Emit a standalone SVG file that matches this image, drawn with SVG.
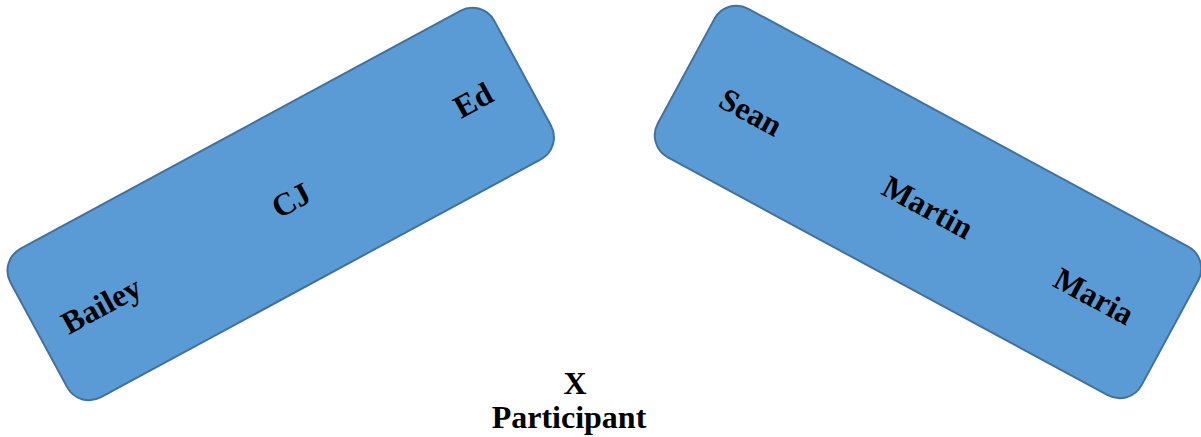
<svg xmlns="http://www.w3.org/2000/svg" width="1201" height="437" viewBox="0 0 1201 437">
<style>
.box{fill:#5B9BD5;stroke:#41719C;stroke-width:2}
.lbl{font-family:"Liberation Serif","Times New Roman",serif;font-weight:bold;font-size:32px;fill:#000;text-anchor:middle}
</style>
<rect width="1201" height="437" fill="#fff"/>
<g id="left-group">
<rect class="box" x="-275" y="-84.5" width="550" height="169" rx="25" ry="25" transform="translate(280.7,204) rotate(-28.4)"/>
<text class="lbl" transform="translate(101,305) rotate(-28.4)" y="11">Bailey</text>
<text class="lbl" transform="translate(291,200) rotate(-28.4)" y="11">CJ</text>
<text class="lbl" transform="translate(473,100) rotate(-28.4)" y="11">Ed</text>
</g>
<g id="right-group">
<rect class="box" x="-275" y="-84.5" width="550" height="169" rx="25" ry="25" transform="translate(928,202) rotate(28.4)"/>
<text class="lbl" transform="translate(751,112) rotate(28.4)" y="11">Sean</text>
<text class="lbl" transform="translate(928,207) rotate(28.4)" y="11">Martin</text>
<text class="lbl" transform="translate(1094,296) rotate(28.4)" y="11">Maria</text>
</g>
<g id="participant">
<text class="lbl" x="575" y="394">X</text>
<text class="lbl" x="569" y="428">Participant</text>
</g>
<g id="connectors"></g>
</svg>
